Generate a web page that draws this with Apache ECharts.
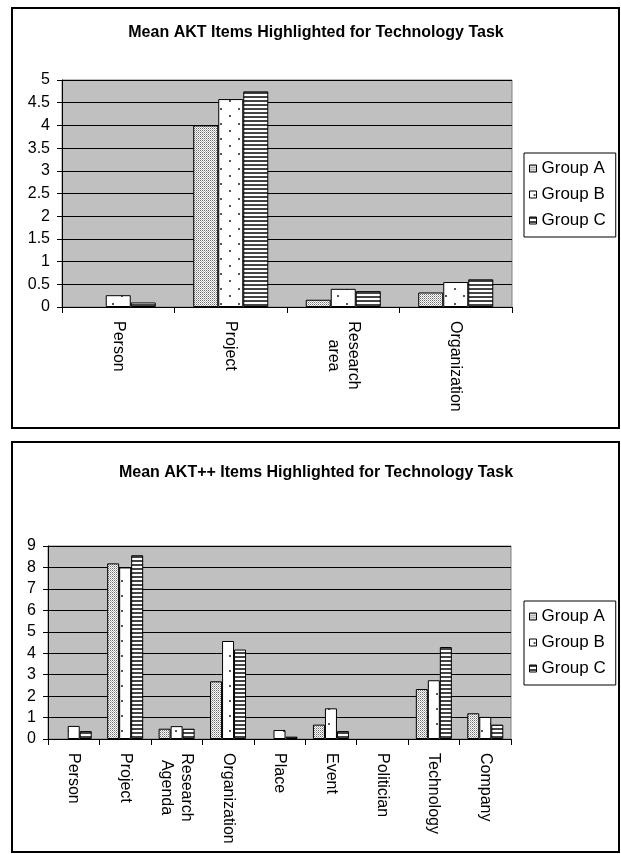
<!DOCTYPE html>
<html>
<head>
<meta charset="utf-8">
<script src="https://cdn.jsdelivr.net/npm/echarts@6/dist/echarts.min.js"></script>
<style>
  html, body { margin: 0; padding: 0; background: #fff; }
  #chart { width: 621px; height: 854px; }
</style>
</head>
<body>
<div id="chart"></div>
<script>
// Upper chart: AKT ontology
const aktCategories = ['Person', 'Project', 'Research\narea', 'Organization'];
const aktGroupA = [0, 4.0, 0.16, 0.32];
const aktGroupB = [0.26, 4.58, 0.40, 0.55];
const aktGroupC = [0.10, 4.75, 0.35, 0.61];
const aktTicks = { min: 0, max: 5, interval: 0.5 };

// Lower chart: AKT++ ontology
const plusCategories = ['Person', 'Project', 'Research\nAgenda', 'Organization', 'Place', 'Event', 'Politician', 'Technology', 'Company'];
const plusGroupA = [0, 8.19, 0.48, 2.69, 0, 0.67, 0, 2.33, 1.20];
const plusGroupB = [0.61, 8.0, 0.60, 4.57, 0.42, 1.43, 0, 2.74, 1.03];
const plusGroupC = [0.37, 8.57, 0.48, 4.17, 0.11, 0.37, 0, 4.29, 0.67];
const plusTicks = { min: 0, max: 9, interval: 1 };

const groupNames = ['Group A', 'Group B', 'Group C'];

const FONT = '"Liberation Sans", Arial, Helvetica, sans-serif';

// Fill patterns for the three groups
function makeTile(w, h, draw) {
  const c = document.createElement('canvas');
  c.width = w; c.height = h;
  const ctx = c.getContext('2d');
  draw(ctx);
  return { image: c, repeat: 'repeat' };
}
const stipple = makeTile(2, 2, ctx => {
  ctx.fillStyle = '#ffffff'; ctx.fillRect(0, 0, 2, 2);
  ctx.fillStyle = '#6e6e6e'; ctx.fillRect(0, 0, 1, 1);
  ctx.fillStyle = '#b4b4b4'; ctx.fillRect(1, 1, 1, 1);
});
const sparseDots = makeTile(18, 15, ctx => {
  ctx.fillStyle = '#ffffff'; ctx.fillRect(0, 0, 18, 15);
  ctx.fillStyle = '#555555';
  ctx.fillRect(4, 3, 2, 2); ctx.fillRect(13, 10, 2, 2);
});
const stripes = makeTile(4, 4, ctx => {
  ctx.fillStyle = '#ffffff'; ctx.fillRect(0, 0, 4, 4);
  ctx.fillStyle = '#444444'; ctx.fillRect(0, 0, 4, 2);
});
const fills = [stipple, sparseDots, stripes];

function richLabel(value) {
  if (value.indexOf('\n') >= 0) {
    return value.split('\n').map(s => '{c|' + s + '}').join('\n');
  }
  return value;
}

function xAxisFor(gridIndex, cats) {
  return {
    type: 'category', gridIndex, data: cats, boundaryGap: true,
    axisLine: { lineStyle: { color: '#000', width: 1 } },
    axisTick: { show: true, interval: 0, length: 6, lineStyle: { color: '#000' } },
    axisLabel: {
      interval: 0, rotate: -90, margin: 14, color: '#000',
      fontFamily: FONT, fontSize: 16, formatter: richLabel,
      rich: { c: { width: 69, align: 'center', lineHeight: 20, fontFamily: FONT, fontSize: 16, color: '#000' } }
    },
    splitLine: { show: false }
  };
}

function yAxisFor(gridIndex, t) {
  return {
    type: 'value', gridIndex, min: t.min, max: t.max, interval: t.interval,
    axisLine: { show: true, lineStyle: { color: '#000', width: 1 } },
    axisTick: { show: true, length: 5, lineStyle: { color: '#000' } },
    axisLabel: { margin: 12, color: '#000', fontFamily: FONT, fontSize: 16 },
    splitLine: { show: true, lineStyle: { color: '#000', width: 1 } }
  };
}

// zero-height bars get no outline, so nothing is drawn for them
function barItems(values) {
  return values.map(v => (v === 0 ? { value: v, itemStyle: { borderWidth: 0 } } : v));
}

function barSeries(name, data, idx, axisIdx, catGap) {
  const s = {
    name, type: 'bar', data: barItems(data),
    xAxisIndex: axisIdx, yAxisIndex: axisIdx,
    barGap: '0%',
    itemStyle: { color: fills[idx], borderColor: '#000', borderWidth: 1 },
    emphasis: { disabled: true },
    animation: false
  };
  if (idx === 0) s.barCategoryGap = catGap;
  return s;
}

function legendAt(top) {
  return {
    data: groupNames, orient: 'vertical', left: 524, top,
    icon: 'rect', itemWidth: 7, itemHeight: 7, itemGap: 9,
    padding: [7, 10, 8, 5],
    borderColor: '#000', borderWidth: 1, backgroundColor: '#fff',
    itemStyle: { borderColor: '#000', borderWidth: 1 },
    textStyle: { fontFamily: FONT, fontSize: 17, color: '#000' },
    selectedMode: false
  };
}

const chart = echarts.init(document.getElementById('chart'), null, { renderer: 'canvas' });
chart.setOption({
  animation: false,
  backgroundColor: '#fff',
  graphic: [
    { type: 'rect', shape: { x: 12, y: 8, width: 607, height: 420 }, style: { fill: '#fff', stroke: '#000', lineWidth: 2 }, z: -10 },
    { type: 'rect', shape: { x: 12, y: 442, width: 607, height: 410 }, style: { fill: '#fff', stroke: '#000', lineWidth: 2 }, z: -10 },
    { type: 'text', x: 316, y: 33, style: { text: 'Mean AKT Items Highlighted for Technology Task', font: 'bold 16px ' + FONT, fill: '#000', align: 'center', verticalAlign: 'middle' } },
    { type: 'text', x: 316, y: 473, style: { text: 'Mean AKT++ Items Highlighted for Technology Task', font: 'bold 16px ' + FONT, fill: '#000', align: 'center', verticalAlign: 'middle' } }
  ],
  grid: [
    { left: 62, top: 80, width: 450, height: 227, show: true, backgroundColor: '#c0c0c0', borderColor: '#808080', borderWidth: 1, containLabel: false },
    { left: 48, top: 546, width: 463, height: 193, show: true, backgroundColor: '#c0c0c0', borderColor: '#808080', borderWidth: 1, containLabel: false }
  ],
  legend: [legendAt(153), legendAt(601)],
  xAxis: [xAxisFor(0, aktCategories), xAxisFor(1, plusCategories)],
  yAxis: [yAxisFor(0, aktTicks), yAxisFor(1, plusTicks)],
  series: [
    barSeries(groupNames[0], aktGroupA, 0, 0, '33.3%'),
    barSeries(groupNames[1], aktGroupB, 1, 0),
    barSeries(groupNames[2], aktGroupC, 2, 0),
    barSeries(groupNames[0], plusGroupA, 0, 1, '30%'),
    barSeries(groupNames[1], plusGroupB, 1, 1),
    barSeries(groupNames[2], plusGroupC, 2, 1)
  ]
});
</script>
</body>
</html>
